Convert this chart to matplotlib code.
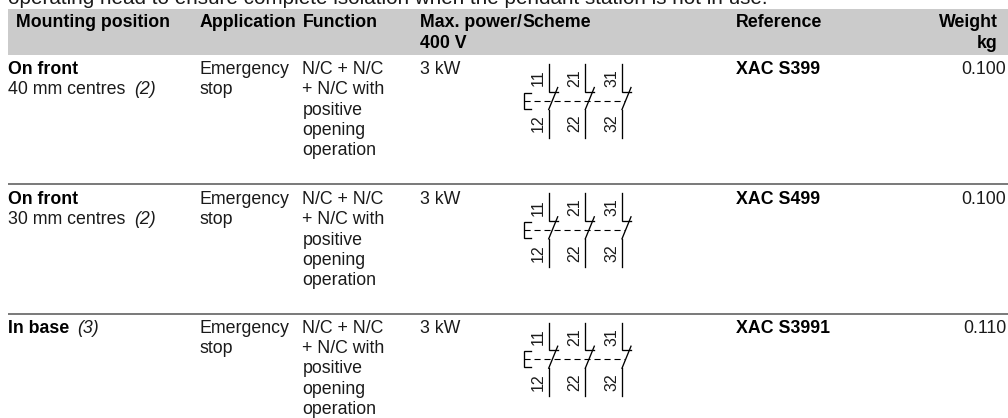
import matplotlib
matplotlib.use("Agg")
import matplotlib.pyplot as plt
from matplotlib.patches import Rectangle

plt.rcParams['font.family'] = ['Liberation Sans', 'DejaVu Sans']

intro = "operating head to ensure complete isolation when the pendant station is not in use."
headers = ["Mounting position", "Application", "Function", "Max. power/", "Scheme", "Reference"]
header_x = [16, 199.5, 302.5, 420, 522.5, 735.5]
mount_bold = ["On front", "On front", "In base"]
mount_plain = ["40 mm centres", "30 mm centres", ""]
notes = ["(2)", "(2)", "(3)"]
note_x = [134, 134, 77]
application = ["Emergency", "stop"]
function = ["N/C + N/C", "+ N/C with", "positive", "opening", "operation"]
power = ["3 kW", "3 kW", "3 kW"]
refs = ["XAC S399", "XAC S499", "XAC S3991"]
weights = ["0.100", "0.100", "0.110"]
row_base = [74, 204, 332.7]
rules = [184.3, 313.7]
scheme_top = [64, 193.3, 322.7]
contact_x = [548.7, 585.3, 622]
upper_labels = ["11", "21", "31"]
lower_labels = ["12", "22", "32"]

FS = 12.75
LH = 20.3
TXT = '#1a1a1a'
LW = 0.95

fig = plt.figure(figsize=(10.08, 4.18), dpi=100)
ax = fig.add_axes([0, 0, 1, 1])
ax.set_xlim(0, 1008)
ax.set_ylim(418, 0)
ax.axis('off')

def t(x, y, s, **kw):
    kw.setdefault('fontsize', FS)
    kw.setdefault('color', TXT)
    kw.setdefault('va', 'baseline')
    kw.setdefault('clip_on', False)
    ax.text(x, y, s, **kw)

t(8, 3.5, intro, fontsize=14.9)
ax.add_patch(Rectangle((8, 8.6), 1000, 46.4, fc='#cbcbcb', ec='none'))
for x, s in zip(header_x, headers):
    t(x, 26.7, s, fontweight='bold', color='black')
t(420, 48, "400 V", fontweight='bold', color='black')
t(998, 26.7, "Weight", fontweight='bold', ha='right', color='black')
t(998, 48, "kg", fontweight='bold', ha='right', color='black')

for y in rules:
    ax.plot([8, 1008], [y, y], color='#555555', lw=1.1, solid_capstyle='butt')

for i, base in enumerate(row_base):
    t(8, base, mount_bold[i], fontweight='bold', color='black')
    if mount_plain[i]:
        t(8, base + LH, mount_plain[i])
        t(note_x[i], base + LH, notes[i], fontstyle='italic')
    else:
        t(note_x[i], base, notes[i], fontstyle='italic')
    for j, s in enumerate(application):
        t(199.5, base + j * LH, s)
    for j, s in enumerate(function):
        t(302.5, base + j * LH, s)
    t(420, base, power[i])
    t(735.5, base, refs[i], fontweight='bold', color='black')
    t(1006, base, weights[i], ha='right')

    top = scheme_top[i]
    for x, up, lo in zip(contact_x, upper_labels, lower_labels):
        ax.plot([x, x, x + 9], [top, top + 27.5, top + 27.5], color='black', lw=LW, solid_joinstyle='miter')
        ax.plot([x, x + 9], [top + 45.5, top + 23.5], color='black', lw=LW)
        ax.plot([x, x], [top + 45.5, top + 73.5], color='black', lw=LW)
        t(x - 10.5, top + 14, up, rotation=90, ha='center', va='center', fontsize=11.5)
        t(x - 10.5, top + 59.5, lo, rotation=90, ha='center', va='center', fontsize=11.5)
    ax.plot([530.7, 524, 524, 530.7], [top + 28.5, top + 28.5, top + 44.5, top + 44.5],
            color='black', lw=LW, solid_joinstyle='miter')
    ax.plot([524, 625], [top + 36.5, top + 36.5], color='black', lw=0.8, dashes=(5.5, 3.5))

fig.savefig('out.png', dpi=100)
